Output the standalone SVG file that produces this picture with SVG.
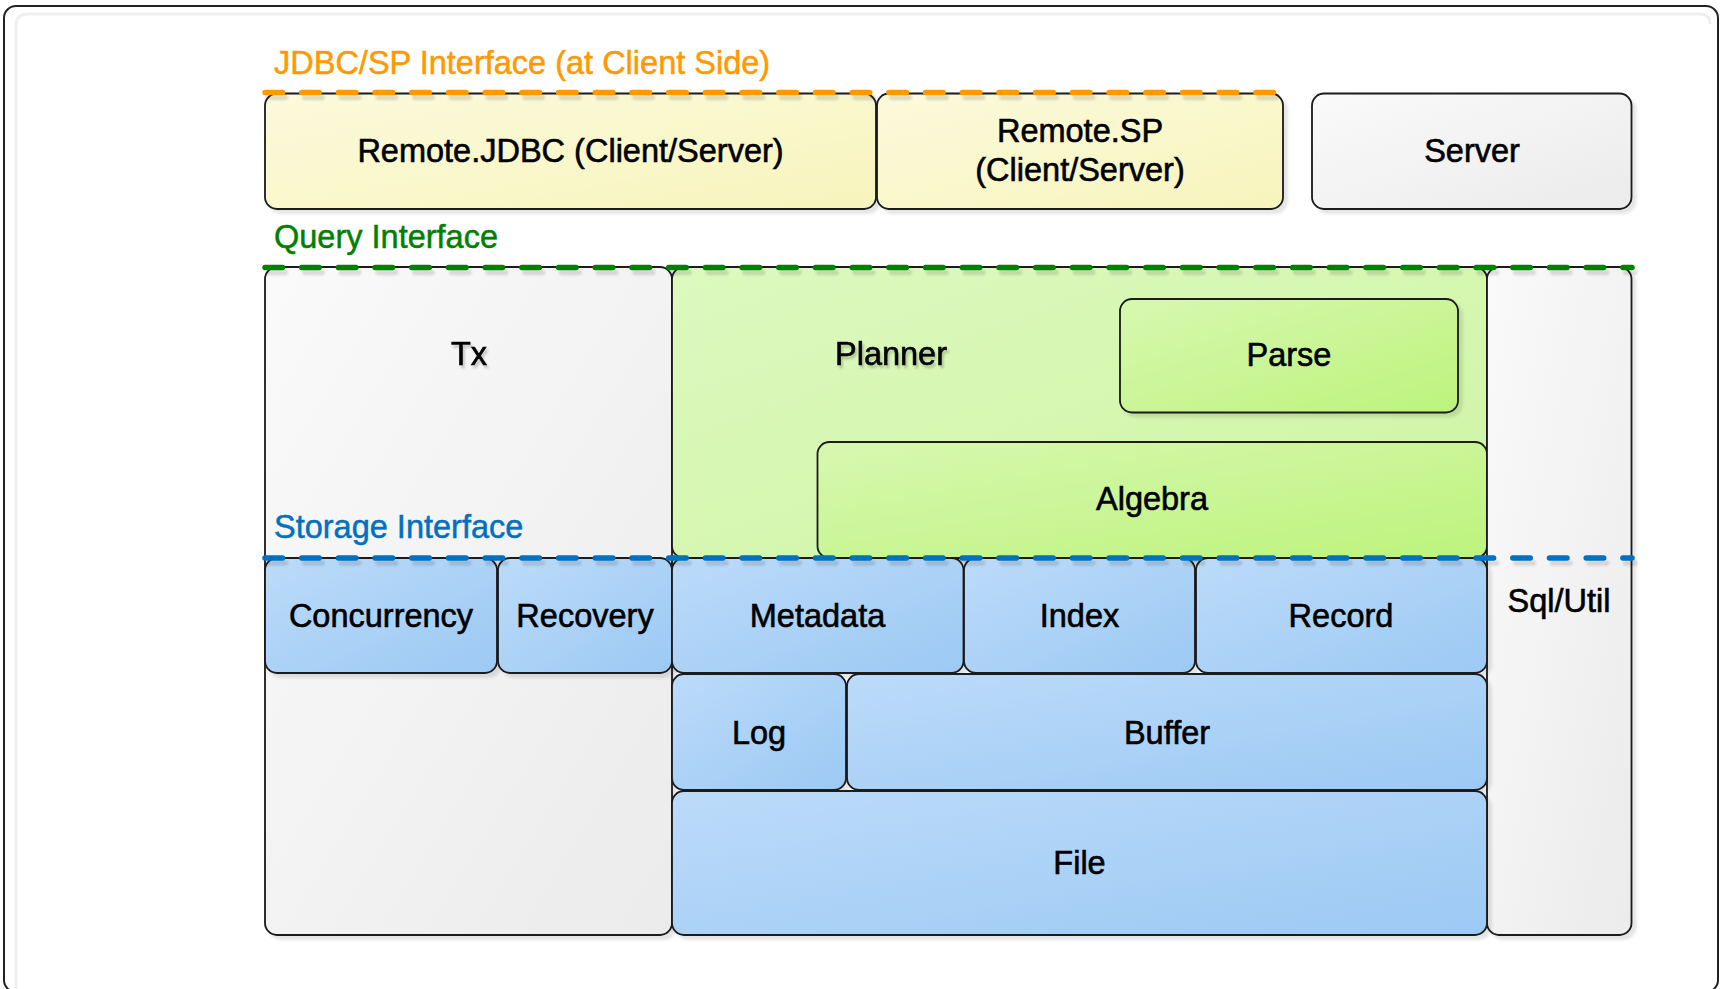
<svg xmlns="http://www.w3.org/2000/svg" width="1725" height="989" viewBox="0 0 1725 989">
  <defs>
    <linearGradient id="gYellow" x1="0" y1="0" x2="1" y2="1">
      <stop offset="0" stop-color="#FBFADC"/>
      <stop offset="1" stop-color="#F8F4BC"/>
    </linearGradient>
    <linearGradient id="gGray" x1="0" y1="0" x2="1" y2="1">
      <stop offset="0" stop-color="#FAFAFA"/>
      <stop offset="1" stop-color="#EBEBEB"/>
    </linearGradient>
    <linearGradient id="gGreenLight" x1="0" y1="0" x2="1" y2="1">
      <stop offset="0" stop-color="#DDF9BF"/>
      <stop offset="1" stop-color="#CDF5A3"/>
    </linearGradient>
    <linearGradient id="gGreen" x1="0" y1="0" x2="1" y2="1">
      <stop offset="0" stop-color="#D7F8B0"/>
      <stop offset="1" stop-color="#BDF37C"/>
    </linearGradient>
    <linearGradient id="gBlue" x1="0" y1="0" x2="1" y2="1">
      <stop offset="0" stop-color="#BCDBF9"/>
      <stop offset="1" stop-color="#9CC9F4"/>
    </linearGradient>
    <filter id="shadow" x="-5%" y="-5%" width="115%" height="120%">
      <feDropShadow dx="4" dy="4" stdDeviation="1.5" flood-color="#000" flood-opacity="0.1"/>
    </filter>
    <!-- user-space region so zero-height lines still get a shadow -->
    <filter id="lineShadow" filterUnits="userSpaceOnUse" x="0" y="0" width="1725" height="989">
      <feDropShadow dx="3" dy="5" stdDeviation="1.2" flood-color="#000" flood-opacity="0.12"/>
    </filter>
    <filter id="textShadow" x="-10%" y="-20%" width="130%" height="150%">
      <feDropShadow dx="2" dy="3" stdDeviation="1" flood-color="#000" flood-opacity="0.2"/>
    </filter>
  </defs>
  <style>
    .box { stroke: #1a1a1a; stroke-width: 1.8; filter: url(#shadow); }
    .yellow { fill: url(#gYellow); }
    .gray { fill: url(#gGray); }
    .greenLight { fill: url(#gGreenLight); }
    .green { fill: url(#gGreen); }
    .blue { fill: url(#gBlue); }
    .label { font-family: "Liberation Sans", Arial, Helvetica, sans-serif; font-size: 32.5px; fill: #000; stroke: #000; stroke-width: 0.6; text-anchor: middle; }
    .iface { font-family: "Liberation Sans", Arial, Helvetica, sans-serif; font-size: 32.5px; stroke-width: 0.5; }
    .sep { fill: none; stroke-width: 5.5; stroke-linecap: round; stroke-dasharray: 17.5 19.2; }
  </style>

  <!-- outer frame -->
  <rect x="4" y="6" width="1714" height="986" rx="12" fill="#fff" stroke="#222" stroke-width="2"/>
  <path d="M16,989 V26 Q16,14 28,14 H1700 Q1710,14 1710,24" fill="none" stroke="#EFEFEF" stroke-width="3"/>

  <!-- client-side layer -->
  <g id="remote-jdbc">
    <rect class="box yellow" x="265" y="93.5" width="611" height="115.5" rx="12"/>
    <text class="label" x="570.5" y="161.5">Remote.JDBC (Client/Server)</text>
  </g>
  <g id="remote-sp">
    <rect class="box yellow" x="877" y="93.5" width="406" height="115.5" rx="12"/>
    <text class="label" x="1080" y="141.5">Remote.SP</text>
    <text class="label" x="1080" y="181">(Client/Server)</text>
  </g>
  <g id="server">
    <rect class="box gray" x="1312" y="93.5" width="319.5" height="115.5" rx="12"/>
    <text class="label" x="1472" y="161.5">Server</text>
  </g>

  <!-- query layer -->
  <g id="tx">
    <rect class="box gray" x="265" y="267" width="407" height="668" rx="12"/>
    <text class="label" x="469" y="364.5" filter="url(#textShadow)">Tx</text>
  </g>
  <g id="planner">
    <rect class="box greenLight" x="672" y="267" width="815" height="291" rx="12"/>
    <text class="label" x="891" y="364.5" filter="url(#textShadow)">Planner</text>
  </g>
  <g id="parse">
    <rect class="box green" x="1120" y="299" width="338" height="113.5" rx="12"/>
    <text class="label" x="1289" y="366">Parse</text>
  </g>
  <g id="algebra">
    <rect class="box green" x="817.5" y="442" width="669.5" height="116" rx="12"/>
    <text class="label" x="1152" y="509.5">Algebra</text>
  </g>
  <g id="sql-util">
    <rect class="box gray" x="1487" y="267" width="144.5" height="668" rx="12"/>
    <text class="label" x="1559" y="612">Sql/Util</text>
  </g>

  <!-- storage layer -->
  <g id="concurrency">
    <rect class="box blue" x="265" y="558" width="232" height="115" rx="12"/>
    <text class="label" x="381" y="626.5">Concurrency</text>
  </g>
  <g id="recovery">
    <rect class="box blue" x="498" y="558" width="174" height="115" rx="12"/>
    <text class="label" x="585" y="626.5">Recovery</text>
  </g>
  <g id="metadata">
    <rect class="box blue" x="672" y="558" width="291.5" height="115" rx="12"/>
    <text class="label" x="817.5" y="626.5">Metadata</text>
  </g>
  <g id="index">
    <rect class="box blue" x="964" y="558" width="231" height="115" rx="12"/>
    <text class="label" x="1079.5" y="626.5">Index</text>
  </g>
  <g id="record">
    <rect class="box blue" x="1196" y="558" width="291" height="115" rx="12"/>
    <text class="label" x="1341" y="626.5">Record</text>
  </g>
  <g id="log">
    <rect class="box blue" x="672" y="674" width="174" height="116" rx="12"/>
    <text class="label" x="759" y="743.5">Log</text>
  </g>
  <g id="buffer">
    <rect class="box blue" x="847" y="674" width="640" height="116" rx="12"/>
    <text class="label" x="1167" y="743.5">Buffer</text>
  </g>
  <g id="file">
    <rect class="box blue" x="672" y="791" width="815" height="144" rx="12"/>
    <text class="label" x="1079.5" y="874">File</text>
  </g>

  <!-- interface boundaries -->
  <g id="interfaces">
    <g filter="url(#lineShadow)">
      <line class="sep" x1="265" y1="92.5" x2="1281" y2="92.5" stroke="#FF9900"/>
      <line class="sep" x1="265" y1="267.5" x2="1632" y2="267.5" stroke="#008000"/>
      <line class="sep" x1="265" y1="558" x2="1632" y2="558" stroke="#0070C0"/>
    </g>
    <text class="iface" x="274" y="74" fill="#FF9900" stroke="#FF9900">JDBC/SP Interface (at Client Side)</text>
    <text class="iface" x="274" y="248" fill="#008000" stroke="#008000">Query Interface</text>
    <text class="iface" x="274" y="538" fill="#0070C0" stroke="#0070C0">Storage Interface</text>
  </g>
</svg>
